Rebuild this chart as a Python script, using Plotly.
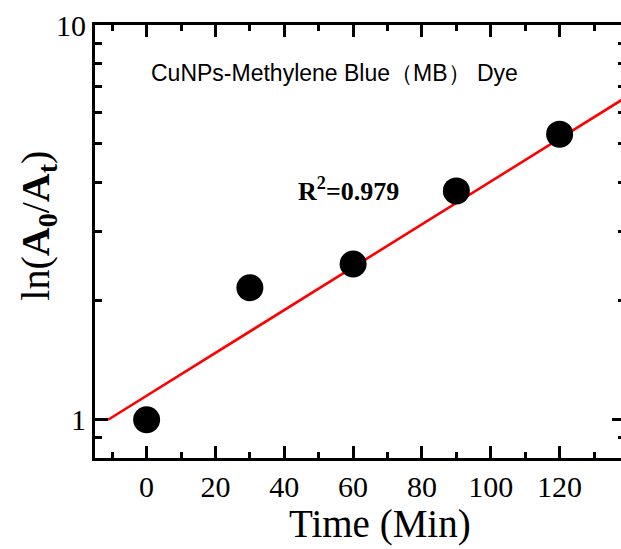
import plotly.graph_objects as go

# Data
time_min = [0, 30, 60, 90, 120]
ln_ratio = [1.0, 2.16, 2.48, 3.80, 5.29]
fit_x = [-11.2, 140]
fit_y = [1.0, 6.62]
x_ticks = [0, 20, 40, 60, 80, 100, 120]
x_tick_labels = ["0", "20", "40", "60", "80", "100", "120"]
y_ticks = [1, 10]
y_tick_labels = ["1", "10"]
y_minor = [0.9, 2, 3, 4, 5, 6, 7, 8, 9]

fig = go.Figure()
fig.add_trace(go.Scatter(x=fit_x, y=fit_y, mode="lines",
                         line=dict(color="#ff0000", width=2.6), showlegend=False))
fig.add_trace(go.Scatter(x=time_min, y=ln_ratio, mode="markers",
                         marker=dict(color="black", size=27, line=dict(width=0)),
                         showlegend=False))

serif = "Liberation Serif, Times New Roman, serif"
axis_common = dict(showline=True, linecolor="black", linewidth=3, mirror="ticks",
                   ticks="inside", tickwidth=2.5, tickcolor="black", showgrid=False,
                   zeroline=False, tickfont=dict(family=serif, size=30, color="black"))

fig.update_xaxes(range=[-15, 139], tickvals=x_ticks, ticktext=x_tick_labels, ticklen=12,
                 minor=dict(dtick=10, tick0=0, ticks="inside", ticklen=6, tickwidth=2.5,
                            tickcolor="black"),
                 **axis_common)
fig.update_yaxes(type="log", range=[-0.0969, 1], tickvals=y_ticks, ticktext=y_tick_labels,
                 ticklen=13,
                 minor=dict(tickvals=y_minor, ticks="inside", ticklen=7, tickwidth=2.5,
                            tickcolor="black"),
                 **axis_common)

fig.add_annotation(xref="paper", yref="paper", x=0.101, y=0.889, xanchor="left",
                   yanchor="middle", showarrow=False,
                   text="CuNPs-Methylene Blue（MB） Dye",
                   font=dict(family="Liberation Sans, Arial, sans-serif", size=23, color="black"))
fig.add_annotation(xref="paper", yref="paper", x=0.380, y=0.619, xanchor="left",
                   yanchor="middle", showarrow=False,
                   text="<b>R<sup>2</sup>=0.979</b>",
                   font=dict(family=serif, size=26, color="black"))
fig.add_annotation(xref="paper", yref="paper", x=0.538, y=-0.153, xanchor="center",
                   yanchor="middle", showarrow=False, text="Time (Min)",
                   font=dict(family=serif, size=39, color="black"))
fig.add_annotation(xref="paper", yref="paper", x=-0.108, y=0.536, xanchor="center",
                   yanchor="middle", showarrow=False, textangle=-90,
                   text="ln(<b>A</b><sub><b>0</b></sub>/<b>A</b><sub><b>t</b></sub>)",
                   font=dict(family=serif, size=40, color="black"))

fig.update_layout(width=628, height=549, margin=dict(l=95, r=0, t=25, b=91),
                  plot_bgcolor="white", paper_bgcolor="white")
fig.write_html("out.html")
